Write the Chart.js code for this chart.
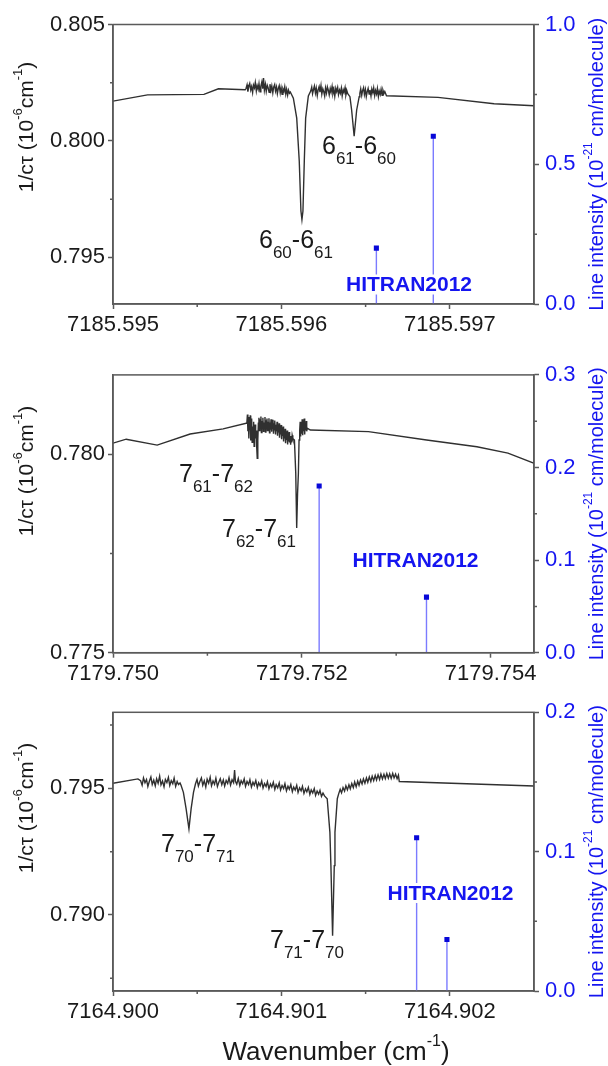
<!DOCTYPE html>
<html>
<head>
<meta charset="utf-8">
<script src="https://cdn.jsdelivr.net/npm/chart.js@4.4.1/dist/chart.umd.min.js"></script>
<style>
  html, body { margin: 0; padding: 0; background: #fff; }
  #wrap { position: relative; width: 608px; height: 1066px; overflow: hidden; }
  #wrap canvas { position: absolute; left: 0; }
</style>
</head>
<body>
<div id="wrap">
  <canvas id="c1"></canvas>
  <canvas id="c2"></canvas>
  <canvas id="c3"></canvas>
</div>
<script>
// Spectra: [offset from base in 1e-6 cm-1, 1/c*tau in 1e-6 cm-1]
const p1Base = 7185.595;
const p1Trace = [
  [0, 0.80171], [205, 0.80198], [540, 0.80200], [626, 0.80224], [785, 0.80220],
  [790, 0.80225], [796, 0.80241], [801, 0.80212], [807, 0.80236], [812, 0.80247], [818, 0.80219],
  [823, 0.80233], [829, 0.80208], [834, 0.80240], [840, 0.80228], [845, 0.80251], [851, 0.80215],
  [856, 0.80238], [862, 0.80222], [867, 0.80246], [873, 0.80211], [878, 0.80235], [884, 0.80254],
  [889, 0.80224], [894, 0.80270], [899, 0.80218], [905, 0.80243], [910, 0.80213], [916, 0.80239],
  [921, 0.80229], [927, 0.80209], [932, 0.80244], [938, 0.80217], [943, 0.80236], [949, 0.80206],
  [954, 0.80231], [960, 0.80242], [965, 0.80214], [971, 0.80232], [976, 0.80203], [982, 0.80227],
  [987, 0.80238], [993, 0.80207], [998, 0.80229], [1004, 0.80200], [1009, 0.80224], [1015, 0.80213],
  [1020, 0.80233], [1026, 0.80201], [1031, 0.80222], [1037, 0.80197], [1042, 0.80218], [1048, 0.80205],
  [1053, 0.80210],
  [1071, 0.80184], [1091, 0.80098], [1106, 0.79914], [1116, 0.79699], [1122, 0.79662],
  [1128, 0.79699], [1136, 0.79914], [1144, 0.80098], [1160, 0.80193],
  [1174, 0.80214], [1180, 0.80231], [1185, 0.80203], [1191, 0.80222], [1196, 0.80236], [1202, 0.80206],
  [1207, 0.80227], [1213, 0.80195], [1218, 0.80219], [1224, 0.80233], [1229, 0.80210], [1235, 0.80238],
  [1240, 0.80201], [1246, 0.80224], [1251, 0.80213], [1257, 0.80193], [1262, 0.80228], [1268, 0.80206],
  [1273, 0.80232], [1279, 0.80217], [1284, 0.80198], [1290, 0.80225], [1295, 0.80209], [1301, 0.80234],
  [1306, 0.80203], [1312, 0.80221], [1317, 0.80192], [1323, 0.80226], [1328, 0.80212], [1334, 0.80230],
  [1339, 0.80199], [1345, 0.80218], [1350, 0.80205], [1356, 0.80227], [1361, 0.80194], [1367, 0.80220],
  [1372, 0.80208], [1378, 0.80229], [1383, 0.80197], [1389, 0.80215], [1394, 0.80203],
  [1407, 0.80190], [1417, 0.80133], [1432, 0.80021], [1447, 0.80133], [1462, 0.80190],
  [1466, 0.80205], [1471, 0.80224], [1477, 0.80196], [1482, 0.80216], [1488, 0.80229], [1493, 0.80199],
  [1499, 0.80221], [1504, 0.80190], [1510, 0.80213], [1515, 0.80226], [1521, 0.80201], [1526, 0.80219],
  [1532, 0.80193], [1537, 0.80223], [1543, 0.80207], [1548, 0.80228], [1554, 0.80195], [1559, 0.80217],
  [1565, 0.80202], [1570, 0.80225], [1576, 0.80191], [1581, 0.80214], [1587, 0.80200], [1592, 0.80222],
  [1598, 0.80196], [1603, 0.80218], [1609, 0.80204], [1614, 0.80212],
  [1624, 0.80194], [1930, 0.80187], [2263, 0.80160], [2500, 0.80151]
];
const p1LineOff = [1564, 1902];
const p1LineS = [0.2, 0.6];

const p2Base = 7179.750;
const p2Trace = [
  [0, 0.78028], [140, 0.78038], [468, 0.78023], [817, 0.78051], [1167, 0.78064], [1410, 0.78078],
  [1418, 0.78079], [1424, 0.78100], [1429, 0.78058], [1434, 0.78094], [1439, 0.78040], [1444, 0.78085],
  [1449, 0.78062], [1454, 0.78098], [1459, 0.78035], [1464, 0.78076], [1469, 0.78090], [1474, 0.78030],
  [1479, 0.78070], [1484, 0.78045], [1490, 0.78082], [1495, 0.78020], [1500, 0.78060], [1506, 0.78075],
  [1511, 0.78040], [1516, 0.78060], [1522, 0.78020], [1528, 0.77990], [1534, 0.78035], [1540, 0.78078],
  [1546, 0.78092], [1551, 0.78060], [1556, 0.78088], [1562, 0.78070], [1567, 0.78095], [1572, 0.78055],
  [1578, 0.78084], [1583, 0.78066], [1588, 0.78092], [1594, 0.78058], [1599, 0.78080], [1604, 0.78072],
  [1610, 0.78094], [1615, 0.78056], [1620, 0.78086], [1626, 0.78064], [1631, 0.78090], [1636, 0.78060],
  [1642, 0.78082], [1647, 0.78068], [1652, 0.78091], [1658, 0.78054], [1663, 0.78080], [1668, 0.78062],
  [1674, 0.78088], [1679, 0.78057], [1684, 0.78083], [1690, 0.78065], [1695, 0.78087], [1700, 0.78052],
  [1706, 0.78078], [1711, 0.78060], [1716, 0.78085], [1722, 0.78050], [1727, 0.78074], [1732, 0.78058],
  [1738, 0.78082], [1743, 0.78047], [1748, 0.78070], [1754, 0.78055], [1759, 0.78078], [1764, 0.78042],
  [1770, 0.78068], [1775, 0.78050], [1780, 0.78074], [1786, 0.78038], [1791, 0.78062], [1796, 0.78046],
  [1802, 0.78070], [1807, 0.78032], [1812, 0.78058], [1818, 0.78040], [1823, 0.78064], [1828, 0.78028],
  [1834, 0.78052], [1839, 0.78036], [1844, 0.78060], [1850, 0.78025], [1855, 0.78048], [1860, 0.78032],
  [1866, 0.78056], [1871, 0.78030], [1876, 0.78046], [1882, 0.78024], [1887, 0.78044], [1892, 0.78030],
  [1898, 0.78048], [1905, 0.78040],
  [1922, 0.78036], [1936, 0.77952], [1946, 0.77814], [1955, 0.77900], [1964, 0.77952], [1971, 0.78036],
  [1978, 0.78060], [1983, 0.78082], [1988, 0.78045], [1994, 0.78076], [1999, 0.78052], [2004, 0.78088],
  [2010, 0.78048], [2015, 0.78080], [2020, 0.78058], [2026, 0.78090], [2031, 0.78050], [2036, 0.78078],
  [2042, 0.78060], [2047, 0.78084], [2052, 0.78058], [2058, 0.78066],
  [2090, 0.78061], [2706, 0.78057], [3322, 0.78036], [3855, 0.78019], [4184, 0.78003], [4463, 0.77977]
];
const p2LineOff = [2184, 3321];
const p2LineS = [0.18, 0.06];

const p3Base = 7164.900;
const p3Trace = [
  [0, 0.79520], [148, 0.79537],
  [164, 0.79530], [173, 0.79512], [181, 0.79541], [190, 0.79522], [199, 0.79535], [207, 0.79507],
  [216, 0.79528], [225, 0.79545], [233, 0.79515], [242, 0.79532], [251, 0.79510], [259, 0.79538],
  [268, 0.79520], [277, 0.79548], [285, 0.79514], [294, 0.79529], [303, 0.79506], [311, 0.79535],
  [320, 0.79523], [329, 0.79543], [337, 0.79511], [346, 0.79530], [355, 0.79518], [363, 0.79540],
  [372, 0.79508], [381, 0.79527], [389, 0.79515], [398, 0.79521], [404, 0.79512],
  [418, 0.79484], [434, 0.79420], [451, 0.79340], [464, 0.79420], [478, 0.79484],
  [490, 0.79518], [499, 0.79535], [507, 0.79509], [516, 0.79527], [525, 0.79541], [533, 0.79512],
  [542, 0.79530], [551, 0.79505], [559, 0.79536], [568, 0.79520], [577, 0.79544], [585, 0.79510],
  [594, 0.79529], [603, 0.79516], [611, 0.79540], [620, 0.79507], [629, 0.79525], [637, 0.79538],
  [646, 0.79514], [655, 0.79533], [663, 0.79509], [672, 0.79531], [681, 0.79519], [689, 0.79542],
  [698, 0.79513], [707, 0.79534], [716, 0.79522], [722, 0.79572], [727, 0.79528], [735, 0.79516],
  [744, 0.79539], [753, 0.79511], [761, 0.79530], [770, 0.79518], [779, 0.79537], [787, 0.79508],
  [796, 0.79527], [805, 0.79515], [813, 0.79534], [822, 0.79505], [831, 0.79524], [839, 0.79512],
  [848, 0.79531], [857, 0.79503], [865, 0.79522], [874, 0.79510], [883, 0.79529], [891, 0.79501],
  [900, 0.79519], [909, 0.79507], [917, 0.79526], [926, 0.79498], [935, 0.79517], [943, 0.79505],
  [952, 0.79524], [961, 0.79496], [969, 0.79514], [978, 0.79502], [987, 0.79521], [995, 0.79493],
  [1004, 0.79511], [1013, 0.79499], [1021, 0.79518], [1030, 0.79490], [1039, 0.79508], [1047, 0.79496],
  [1056, 0.79515], [1065, 0.79487], [1073, 0.79505], [1082, 0.79493], [1091, 0.79512], [1099, 0.79484],
  [1108, 0.79502], [1117, 0.79490], [1125, 0.79508], [1134, 0.79480], [1143, 0.79498], [1151, 0.79486],
  [1160, 0.79504], [1169, 0.79476], [1177, 0.79494], [1186, 0.79482], [1195, 0.79499], [1203, 0.79472],
  [1212, 0.79489], [1221, 0.79477], [1229, 0.79492], [1238, 0.79468], [1247, 0.79481], [1256, 0.79470],
  [1272, 0.79459], [1288, 0.79326], [1294, 0.79195], [1304, 0.78918], [1314, 0.79195], [1318, 0.79326],
  [1332, 0.79459],
  [1340, 0.79478], [1349, 0.79496], [1357, 0.79482], [1366, 0.79503], [1375, 0.79489], [1383, 0.79510],
  [1392, 0.79494], [1401, 0.79514], [1409, 0.79498], [1418, 0.79519], [1427, 0.79503], [1435, 0.79525],
  [1444, 0.79506], [1453, 0.79528], [1461, 0.79512], [1470, 0.79533], [1479, 0.79517], [1487, 0.79537],
  [1496, 0.79520], [1505, 0.79541], [1513, 0.79524], [1522, 0.79545], [1531, 0.79527], [1539, 0.79548],
  [1548, 0.79530], [1557, 0.79551], [1565, 0.79533], [1574, 0.79553], [1583, 0.79535], [1591, 0.79556],
  [1600, 0.79537], [1609, 0.79555], [1617, 0.79538], [1626, 0.79558], [1635, 0.79540], [1643, 0.79557],
  [1652, 0.79539], [1661, 0.79559], [1669, 0.79541], [1678, 0.79556], [1687, 0.79538], [1695, 0.79552],
  [1700, 0.79527], [2500, 0.79509]
];
const p3LineOff = [1803, 1983];
const p3LineS = [0.11, 0.037];

// Axis ticks
const p1XTicks = [7185.595, 7185.596, 7185.597];
const p1XMinor = [7185.5955, 7185.5965];
const p1YTicks = [0.795, 0.800, 0.805];
const p1YMinor = [0.7975, 0.8025];
const p1STicks = [0, 0.5, 1.0];
const p1SMinor = [0.25, 0.75];

const p2XTicks = [7179.750, 7179.752, 7179.754];
const p2XMinor = [7179.751, 7179.753];
const p2YTicks = [0.775, 0.780];
const p2YMinor = [0.7775];
const p2STicks = [0, 0.1, 0.2, 0.3];
const p2SMinor = [0.05, 0.15, 0.25];

const p3XTicks = [7164.900, 7164.901, 7164.902];
const p3XMinor = [7164.9005, 7164.9015];
const p3YTicks = [0.790, 0.795];
const p3YMinor = [0.7875, 0.7925, 0.7975];
const p3STicks = [0, 0.1, 0.2];
const p3SMinor = [0.05, 0.15];

const FONT = "'Liberation Sans', Arial, sans-serif";
const AXIS_GREY = '#5a5a5a';
const BLUE = '#1515f0';

// rich text: parts are [text, size, dy]
const richWidth = (ctx, parts, weight = '') => parts.reduce((w, p) => {
    ctx.font = `${weight} ${p[1]}px ${FONT}`;
    return w + ctx.measureText(p[0]).width;
}, 0);

const drawRich = (ctx, parts, x, y, weight = '') => {
    let cx = x;
    parts.forEach(p => {
        ctx.font = `${weight} ${p[1]}px ${FONT}`;
        ctx.fillText(p[0], cx, y + (p[2] || 0));
        cx += ctx.measureText(p[0]).width;
    });
};

const transition = (a, b, c, d) => [[a, 25], [b, 17, 10], ['-' + c, 25], [d, 17, 10]];

const leftTitle = [['1/c\u03c4 (10', 21], ['-6', 13, -9], ['cm', 21], ['-1', 13, -9], [')', 21]];
const rightTitle = [['Line intensity (10', 20], ['-21', 12, -8], [' cm/molecule)', 20]];
const xTitle = [['Wavenumber (cm', 26], ['-1', 16, -11], [')', 26]];

function makePanel(p) {
    const canvas = document.getElementById(p.id);
    canvas.width = 608;
    canvas.height = p.height;
    canvas.style.top = p.top + 'px';

    const trace = p.trace.map(([o, v]) => ({ x: p.base + o / 1e6, y: v }));
    const sticks = p.lineOff.map((o, i) => ({
        type: 'line',
        yAxisID: 'y2',
        data: [{ x: p.base + o / 1e6, y: 0 }, { x: p.base + o / 1e6, y: p.lineS[i] }],
        borderColor: '#7b7bff',
        borderWidth: 1.4,
        pointRadius: [0, 3.6],
        pointStyle: 'rect',
        pointBackgroundColor: '#0808d8',
        pointBorderColor: '#0808d8',
        pointBorderWidth: 0
    }));

    const deco = {
        id: 'deco',
        afterDraw(chart) {
            const { ctx, chartArea: a, scales } = chart;
            ctx.save();
            ctx.strokeStyle = AXIS_GREY;
            ctx.lineWidth = 1.5;
            ctx.strokeRect(a.left, a.top, a.right - a.left, a.bottom - a.top);

            // minor ticks
            ctx.beginPath();
            p.xMinor.forEach(v => {
                const x = scales.x.getPixelForValue(v);
                ctx.moveTo(x, a.bottom); ctx.lineTo(x, a.bottom + 3);
            });
            p.yMinor.forEach(v => {
                const y = scales.y.getPixelForValue(v);
                ctx.moveTo(a.left, y); ctx.lineTo(a.left - 3, y);
            });
            p.sMinor.forEach(v => {
                const y = scales.y2.getPixelForValue(v);
                ctx.moveTo(a.right, y); ctx.lineTo(a.right + 3, y);
            });
            ctx.stroke();

            ctx.textBaseline = 'alphabetic';
            ctx.textAlign = 'left';

            // transition labels
            ctx.fillStyle = '#1a1a1a';
            p.labels.forEach(l => drawRich(ctx, l.parts, l.x, l.y - p.top));

            // HITRAN label over the sticks
            ctx.font = `bold 21px ${FONT}`;
            const hw = ctx.measureText('HITRAN2012').width;
            const hy = p.hitran[1] - p.top;
            ctx.fillStyle = '#fff';
            ctx.fillRect(p.hitran[0] - hw / 2 - 2, hy - 10, hw + 4, 20);
            ctx.fillStyle = BLUE;
            ctx.textAlign = 'center';
            ctx.textBaseline = 'middle';
            ctx.fillText('HITRAN2012', p.hitran[0], hy + 1);
            ctx.textAlign = 'left';

            // left title
            ctx.save();
            ctx.translate(27, p.leftTitleY - p.top);
            ctx.rotate(-Math.PI / 2);
            ctx.fillStyle = '#1a1a1a';
            drawRich(ctx, leftTitle, -richWidth(ctx, leftTitle) / 2, 0);
            ctx.restore();

            // right title
            ctx.save();
            ctx.translate(597, (a.top + a.bottom) / 2);
            ctx.rotate(-Math.PI / 2);
            ctx.fillStyle = BLUE;
            drawRich(ctx, rightTitle, -richWidth(ctx, rightTitle) / 2, 0);
            ctx.restore();

            if (p.showXTitle) {
                ctx.fillStyle = '#1a1a1a';
                drawRich(ctx, xTitle, 336 - richWidth(ctx, xTitle) / 2, 1053 - p.top);
            }
            ctx.restore();
        }
    };

    const tickFont = { family: FONT, size: 22 };

    return new Chart(canvas, {
        type: 'line',
        data: {
            datasets: [
                {
                    data: trace,
                    yAxisID: 'y',
                    borderColor: '#303030',
                    borderWidth: 1.4,
                    pointRadius: 0,
                    tension: 0
                },
                ...sticks
            ]
        },
        options: {
            responsive: false,
            animation: false,
            events: [],
            layout: { padding: { top: p.padTop, left: 0, right: 0, bottom: 0 } },
            plugins: { legend: { display: false }, tooltip: { enabled: false } },
            scales: {
                x: {
                    type: 'linear',
                    min: p.xMin,
                    max: p.xMax,
                    afterBuildTicks: s => { s.ticks = p.xTicks.map(v => ({ value: v })); },
                    afterFit: s => { s.height = p.xAxisH; },
                    ticks: { font: tickFont, color: '#1a1a1a', padding: 3, autoSkip: false, maxRotation: 0, callback: v => v.toFixed(3) },
                    grid: { drawOnChartArea: false, tickLength: 5, tickColor: AXIS_GREY, tickWidth: 1.5 },
                    border: { color: AXIS_GREY, width: 1.5 }
                },
                y: {
                    type: 'linear',
                    position: 'left',
                    min: p.yMin,
                    max: p.yMax,
                    afterBuildTicks: s => { s.ticks = p.yTicks.map(v => ({ value: v })); },
                    afterFit: s => { s.width = 113; },
                    ticks: { font: tickFont, color: '#1a1a1a', padding: 3, autoSkip: false, callback: v => v.toFixed(3) },
                    grid: { drawOnChartArea: false, tickLength: 5, tickColor: AXIS_GREY, tickWidth: 1.5 },
                    border: { color: AXIS_GREY, width: 1.5 }
                },
                y2: {
                    type: 'linear',
                    position: 'right',
                    min: 0,
                    max: p.sMax,
                    afterBuildTicks: s => { s.ticks = p.sTicks.map(v => ({ value: v })); },
                    afterFit: s => { s.width = 74; },
                    ticks: { font: tickFont, color: BLUE, padding: 6, autoSkip: false, callback: v => v.toFixed(1) },
                    grid: { drawOnChartArea: false, tickLength: 5, tickColor: AXIS_GREY, tickWidth: 1.5 },
                    border: { color: AXIS_GREY, width: 1.5 }
                }
            }
        },
        plugins: [deco]
    });
}

makePanel({
    id: 'c1', top: 0, height: 345, padTop: 24.5, xAxisH: 41,
    base: p1Base, trace: p1Trace, lineOff: p1LineOff, lineS: p1LineS,
    xMin: 7185.595, xMax: 7185.5975, yMin: 0.793, yMax: 0.805, sMax: 1.0,
    xTicks: p1XTicks, xMinor: p1XMinor, yTicks: p1YTicks, yMinor: p1YMinor, sTicks: p1STicks, sMinor: p1SMinor,
    labels: [
        { parts: transition('6', '60', '6', '61'), x: 259, y: 248 },
        { parts: transition('6', '61', '6', '60'), x: 322, y: 154 }
    ],
    hitran: [409, 284.5], leftTitleY: 127
});

makePanel({
    id: 'c2', top: 345, height: 345, padTop: 29.9, xAxisH: 37.3,
    base: p2Base, trace: p2Trace, lineOff: p2LineOff, lineS: p2LineS,
    xMin: 7179.750, xMax: 7179.75446, yMin: 0.775, yMax: 0.782, sMax: 0.3,
    xTicks: p2XTicks, xMinor: p2XMinor, yTicks: p2YTicks, yMinor: p2YMinor, sTicks: p2STicks, sMinor: p2SMinor,
    labels: [
        { parts: transition('7', '61', '7', '62'), x: 179, y: 482 },
        { parts: transition('7', '62', '7', '61'), x: 222, y: 537 }
    ],
    hitran: [415.5, 560], leftTitleY: 471
});

makePanel({
    id: 'c3', top: 690, height: 376, padTop: 22.3, xAxisH: 75,
    base: p3Base, trace: p3Trace, lineOff: p3LineOff, lineS: p3LineS,
    xMin: 7164.900, xMax: 7164.9025, yMin: 0.787, yMax: 0.798, sMax: 0.2,
    xTicks: p3XTicks, xMinor: p3XMinor, yTicks: p3YTicks, yMinor: p3YMinor, sTicks: p3STicks, sMinor: p3SMinor,
    labels: [
        { parts: transition('7', '70', '7', '71'), x: 161, y: 852 },
        { parts: transition('7', '71', '7', '70'), x: 270, y: 948 }
    ],
    hitran: [450.5, 893], leftTitleY: 808, showXTitle: true
});
</script>
</body>
</html>
